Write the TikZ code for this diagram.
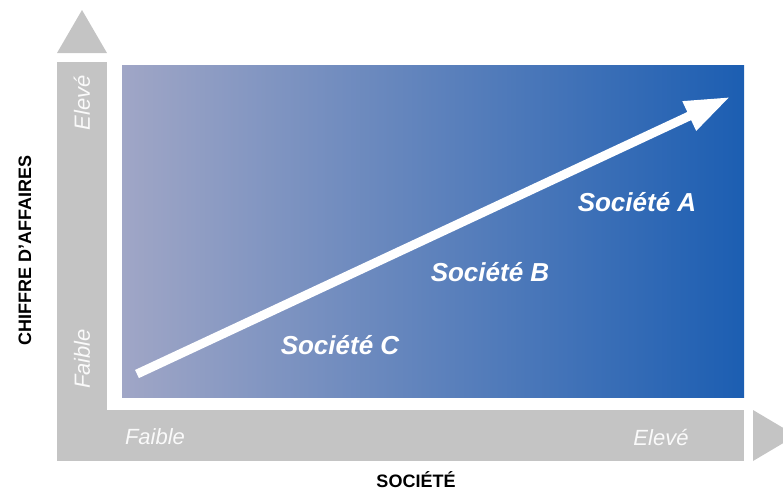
\documentclass[tikz,border=0pt]{standalone}
\usepackage{fontspec}
\setmainfont{Liberation Sans}
\usetikzlibrary{arrows.meta}
\definecolor{axisgray}{RGB}{196,196,196}
\definecolor{paleblue}{RGB}{160,166,198}
\definecolor{midblue}{RGB}{108,136,196}
\definecolor{deepblue}{RGB}{28,94,178}
\begin{document}
\begin{tikzpicture}[x=1pt,y=-1pt,
    company/.style={text=white,font=\fontsize{26}{30}\selectfont\bfseries\itshape},
    level/.style={text=white!96!gray,font=\fontsize{22}{26}\selectfont\itshape},
    axistitle/.style={font=\fontsize{18}{22}\selectfont\bfseries}]
    \useasboundingbox (0,0) rectangle (783,491);

    % Vertical axis
    \fill[axisgray] (57,62) rectangle (107,461);
    \fill[axisgray] (57,53) -- (82,10) -- (107,53) -- cycle;

    % Horizontal axis
    \fill[axisgray] (57,410) rectangle (744,461);
    \fill[axisgray] (753,410) -- (796,435.5) -- (753,461) -- cycle;

    % Blue field
    \shade[left color=paleblue,middle color=midblue,right color=deepblue] (122,65) rectangle (744,397);

    % Growth arrow
    \coordinate (low) at (137,374);
    \coordinate (high) at (730,97);
    \draw[white,line width=9pt,-{Triangle[length=45pt,width=30pt]}] (low) -- (high);

    % Companies
    \node[company] (socA) at (637,202) {Société A};
    \node[company] (socB) at (490,272) {Société B};
    \node[company] (socC) at (340,345) {Société C};

    % Levels on the axes
    \node[level,rotate=90] (yhigh) at (82,103) {Elevé};
    \node[level,rotate=90] (ylow) at (82,359) {Faible};
    \node[level] (xlow) at (155,437) {Faible};
    \node[level] (xhigh) at (661,437) {Elevé};

    % Axis titles
    \node[axistitle,rotate=90] (ytitle) at (25,250) {CHIFFRE D'AFFAIRES};
    \node[axistitle] (xtitle) at (416,480) {SOCIÉTÉ};
\end{tikzpicture}
\end{document}
